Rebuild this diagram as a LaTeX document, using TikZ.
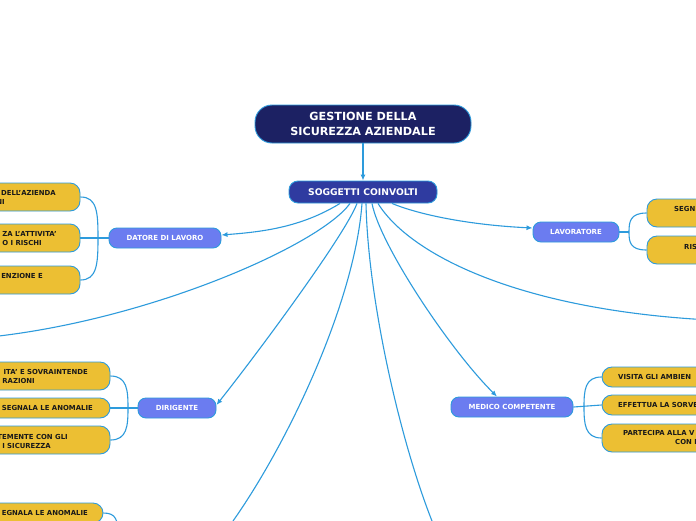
\documentclass[tikz,border=0pt]{standalone}
\usepackage{fontspec}
\setmainfont{DejaVu Sans}
\usepackage{xcolor}
\usetikzlibrary{arrows.meta, calc}
\definecolor{rootcol}{HTML}{1C2163}
\definecolor{subjcol}{HTML}{2F3BA0}
\definecolor{rolecol}{HTML}{6B7CF0}
\definecolor{leafcol}{HTML}{ECBF33}
\definecolor{linkcol}{HTML}{2D9BDC}

\begin{document}
\begin{tikzpicture}[
  x=1pt, y=-1pt,
  rootbox/.style={draw=linkcol, fill=rootcol, text=white, rounded corners=17pt, line width=0.9pt,
                  minimum width=216pt, minimum height=38pt, align=center,
                  font=\fontsize{11.2}{15}\selectfont\bfseries},
  subjbox/.style={draw=linkcol, fill=subjcol, text=white, rounded corners=9pt, line width=0.9pt,
                  minimum width=148pt, minimum height=22pt, font=\fontsize{9.2}{11}\selectfont\bfseries},
  rolebox/.style={draw=linkcol, fill=rolecol, text=white, rounded corners=8pt, line width=0.9pt,
                  minimum width=#1, minimum height=20pt, font=\fontsize{7}{8}\selectfont\bfseries},
  leafbox/.style={draw=linkcol, fill=leafcol, rounded corners=10pt, line width=0.9pt,
                  minimum width=160pt, minimum height=#1, inner sep=0pt},
  leaftxt/.style={inner sep=0pt, text height=5pt, text depth=0pt, text=black!90,
                  font=\fontsize{6.9}{8}\selectfont\bfseries},
  link/.style={draw=linkcol, line width=1.1pt},
  arr/.style={link, -{Latex[length=6pt, width=5pt]}},
]
\useasboundingbox (0,0) rectangle (696,520);
\fill[white] (0,0) rectangle (696,520);
\clip (0,0) rectangle (696,520);

% Centre
\node[rootbox] (root) at (363,124) {GESTIONE DELLA\\SICUREZZA AZIENDALE};
\node[subjbox] (sogg) at (363,192) {SOGGETTI COINVOLTI};
\draw[arr] (root.south) -- (sogg.north);

% Roles
\node[rolebox=112pt] (datore) at (165,238) {DATORE DI LAVORO};
\node[rolebox=86pt] (lavor) at (576,232) {LAVORATORE};
\node[rolebox=78pt] (dirig) at (177,408) {DIRIGENTE};
\node[rolebox=122pt] (medico) at (512,407) {MEDICO COMPETENTE};

% Ends running out of the frame
\coordinate (offl) at (-10,337);
\coordinate (offbl) at (233,521);
\coordinate (offbr) at (432,521);
\coordinate (offr) at (710,320);
\coordinate (offbrk) at (118,535);

% Connectors from SOGGETTI COINVOLTI
\draw[arr] ($(sogg.south)+(-23,0)$) .. controls (300,228) and (260,232) .. ($(datore.east)+(0,-3)$);
\draw[link] ($(sogg.south)+(-13,0)$) .. controls (320,245) and (150,320) .. (offl);
\draw[arr] ($(sogg.south)+(-6,0)$) .. controls (345,235) and (260,350) .. ($(dirig.east)+(0,-3)$);
\draw[link] ($(sogg.south)+(-1,0)$) .. controls (355,300) and (290,440) .. (offbl);
\draw[link] ($(sogg.south)+(3,0)$) .. controls (368,300) and (400,440) .. (offbr);
\draw[arr] ($(sogg.south)+(9,0)$) .. controls (380,245) and (450,350) .. ($(medico.north)+(-15,0)$);
\draw[link] ($(sogg.south)+(15,0)$) .. controls (410,255) and (520,310) .. (offr);
\draw[arr] ($(sogg.south)+(29,0)$) .. controls (420,215) and (470,225) .. ($(lavor.west)+(0,-4)$);

% DATORE DI LAVORO leaves
\node[leafbox=28pt] (dl1) at (0,197) {};
\node[leafbox=28pt] (dl2) at (0,238) {};
\node[leafbox=28pt] (dl3) at (0,280) {};
\node[leaftxt, anchor=east] (dl1a) at (56,193) {DELL'AZIENDA};
\node[leaftxt, anchor=east] (dl1b) at (5,202) {NI};
\node[leaftxt, anchor=east] (dl2a) at (57,234) {ZA L'ATTIVITA'};
\node[leaftxt, anchor=east] (dl2b) at (42,243) {O I RISCHI};
\node[leaftxt, anchor=east] (dl3a) at (43,276) {ENZIONE E};
\draw[link] (datore.west) -- (dl2.east);
\draw[link] (dl1.east) .. controls (97,197) and (98,212) .. (98,238) .. controls (98,264) and (97,280) .. (dl3.east);

% DIRIGENTE leaves
\node[leafbox=28pt] (dr1) at (30,376) {};
\node[leafbox=20pt] (dr2) at (30,408) {};
\node[leafbox=28pt] (dr3) at (30,440) {};
\node[leaftxt, anchor=east] (dr1a) at (88,372) {ITA' E SOVRAINTENDE};
\node[leaftxt, anchor=east] (dr1b) at (35,381) {RAZIONI};
\node[leaftxt, anchor=east] (dr2a) at (93,408) {SEGNALA LE ANOMALIE};
\node[leaftxt, anchor=east] (dr3a) at (68,437) {TEMENTE CON GLI};
\node[leaftxt, anchor=east] (dr3b) at (51,446) {I SICUREZZA};
\draw[link] (dirig.west) -- (dr2.east);
\draw[link] (dr1.east) .. controls (127,376) and (128,390) .. (128,408) .. controls (128,426) and (127,440) .. (dr3.east);

% leaf of the role below the frame
\node[leafbox=20pt] (bl1) at (23,513) {};
\node[leaftxt, anchor=east] (bl1a) at (88,513) {EGNALA LE ANOMALIE};
\draw[link] (bl1.east) .. controls (116,513) and (118,520) .. (offbrk);

% LAVORATORE leaves
\node[leafbox=28pt] (lw1) at (727,213) {};
\node[leafbox=28pt] (lw2) at (727,250) {};
\node[leaftxt, anchor=west] (lw1a) at (674,209) {SEGN};
\node[leaftxt, anchor=west] (lw2a) at (684,247) {RIS};
\coordinate (lbr) at (629,232);
\draw[link] (lavor.east) -- (lbr);
\draw[link] (lw1.west) .. controls (630,213) and (629,222) .. (lbr) .. controls (629,242) and (630,250) .. (lw2.west);

% MEDICO COMPETENTE leaves
\node[leafbox=20pt] (ml1) at (682,377) {};
\node[leafbox=20pt] (ml2) at (682,405) {};
\node[leafbox=28pt] (ml3) at (682,438) {};
\node[leaftxt, anchor=west] (ml1a) at (618,377) {VISITA GLI AMBIEN};
\node[leaftxt, anchor=west] (ml2a) at (618,405) {EFFETTUA LA SORVE};
\node[leaftxt, anchor=west] (ml3a) at (623,433) {PARTECIPA ALLA V};
\node[leaftxt, anchor=west] (ml3b) at (675,442) {CON I};
\draw[link] (medico.east) -- (ml2.west);
\draw[link] (ml1.west) .. controls (585,377) and (584,390) .. (584,407) .. controls (584,424) and (585,438) .. (ml3.west);

\end{tikzpicture}
\end{document}
